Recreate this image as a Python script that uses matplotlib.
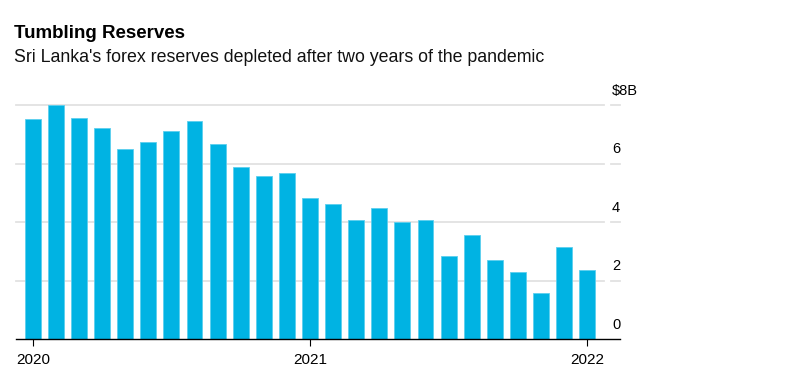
import numpy as np
import matplotlib.pyplot as plt
from matplotlib.transforms import blended_transform_factory

plt.rcParams['font.family'] = ['Liberation Sans', 'DejaVu Sans']

# monthly reserves, Jan 2020 .. Jan 2022 ($B)
months = np.arange(25)
reserves = [7.51, 8.00, 7.54, 7.20, 6.48, 6.72, 7.11, 7.45, 6.67, 5.87, 5.56, 5.66,
            4.81, 4.60, 4.06, 4.47, 4.01, 4.06, 2.84, 3.55, 2.69, 2.28, 1.56, 3.14, 2.35]
year_ticks = [0, 12, 24]
year_labels = ['2020', '2021', '2022']
y_ticks = [0, 2, 4, 6, 8]
y_labels = ['0', '2', '4', '6', '$8B']

W, H = 807, 380
fig = plt.figure(figsize=(W / 100, H / 100), dpi=100)
ax = fig.add_axes([16 / W, (H - 339) / H, (620 - 16) / W, (339 - 105) / H])

ax.bar(months, reserves, width=0.69, color='#00b3e3', edgecolor='#5ccfee', linewidth=0.6, zorder=2)
ax.set_xlim(-0.727, 25.42)
ax.set_ylim(0, 8)

# gridlines with a small gap before the right tick
tr = blended_transform_factory(ax.transAxes, ax.transData)
for v in y_ticks[1:]:
    ax.plot([0, (604 - 16) / 604], [v, v], transform=tr, color='#e2e2e2', lw=1.3, zorder=1, clip_on=False)
    ax.plot([(611 - 16) / 604, 1], [v, v], transform=tr, color='#e2e2e2', lw=1.3, zorder=1, clip_on=False)

for v, lab in zip(y_ticks, y_labels):
    ax.text((612 - 16) / 604, v + 0.25, lab, transform=tr, ha='left', va='bottom',
            fontsize=10.5, color='#000000')

for s in ['top', 'right', 'left']:
    ax.spines[s].set_visible(False)
ax.spines['bottom'].set_color('#000000')
ax.spines['bottom'].set_linewidth(1)
ax.set_yticks([])
ax.set_xticks(year_ticks)
ax.set_xticklabels(year_labels, fontsize=11)
ax.tick_params(axis='x', length=5, width=0.8, pad=5, colors='#000000')

fig.text(14 / W, 1 - 33 / H, 'Tumbling Reserves', fontsize=13.5, fontweight='bold', va='center', ha='left')
fig.text(14 / W, 1 - 57 / H, "Sri Lanka's forex reserves depleted after two years of the pandemic",
         fontsize=12.8, va='center', ha='left', color='#111111')

fig.savefig('out.png', dpi=100)
